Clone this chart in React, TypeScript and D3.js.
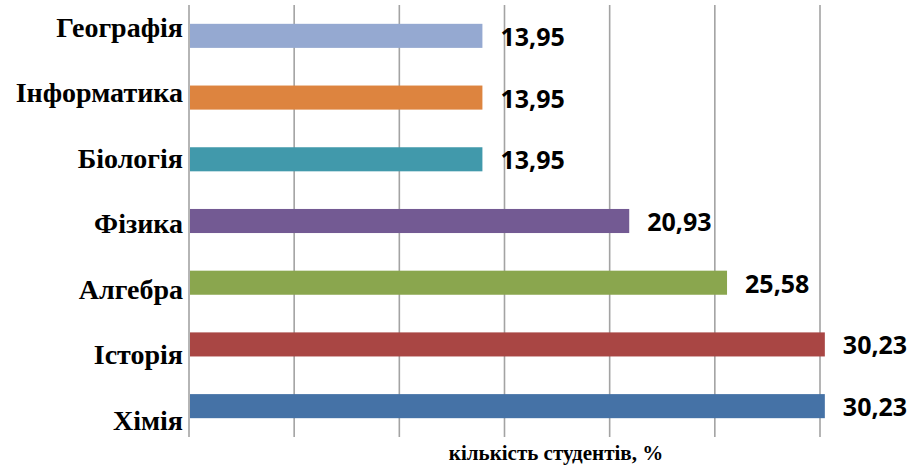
import React from "react";
import * as d3 from "d3";

// Subjects from top to bottom, with the share of students for each
const subjects = ["Географія", "Інформатика", "Біологія", "Фізика", "Алгебра", "Історія", "Хімія"];
const shares = [13.95, 13.95, 13.95, 20.93, 25.58, 30.23, 30.23];
const barColors = ["#95a9d1", "#dd843f", "#4199ab", "#735a93", "#8aa64e", "#a94644", "#4572a6"];
const gridTicks = [0, 5, 10, 15, 20, 25, 30];
const axisTitle = "кількість студентів, %";

const W = 915;
const H = 468;

export default function App() {
  const x = d3.scaleLinear().domain([0, 30]).range([189, 820]);
  const y = d3.scaleBand<string>().domain(subjects).range([5, 437]).paddingInner(0.61).paddingOuter(0.305);
  // category captions sit on their own evenly spread rows
  const yLabel = d3.scalePoint<string>().domain(subjects).range([27, 420]);
  const fmt = (v: number) => v.toFixed(2).replace(".", ",");

  return (
    <svg width={W} height={H} style={{ position: "absolute", left: 0, top: 0, background: "#fff" }}>
      <g>
        {gridTicks.map((t) => (
          <line key={t} x1={x(t)} x2={x(t)} y1={5} y2={437} stroke="#a3a3a3" strokeWidth={1.6} />
        ))}
      </g>
      <g>
        {subjects.map((s, i) => (
          <rect
            key={s}
            x={x(0) + 1}
            y={y(s)}
            width={x(shares[i]) - x(0) - 1}
            height={y.bandwidth()}
            fill={barColors[i]}
          />
        ))}
      </g>
      <g fontFamily="'Noto Sans', 'Open Sans', sans-serif" fontWeight="bold" fontSize={25} fill="#000">
        {subjects.map((s, i) => (
          <text key={s} x={x(shares[i]) + 18} y={(y(s) as number) + y.bandwidth() / 2} dominantBaseline="central">
            {fmt(shares[i])}
          </text>
        ))}
      </g>
      <g fontFamily="'Liberation Serif', 'Times New Roman', serif" fontWeight="bold" fontSize={28} fill="#000">
        {subjects.map((s) => (
          <text key={s} x={183} y={yLabel(s)} textAnchor="end" dominantBaseline="central">
            {s}
          </text>
        ))}
      </g>
      <text
        x={556}
        y={460}
        textAnchor="middle"
        fontFamily="'Liberation Serif', 'Times New Roman', serif"
        fontWeight="bold"
        fontSize={21}
      >
        {axisTitle}
      </text>
    </svg>
  );
}
